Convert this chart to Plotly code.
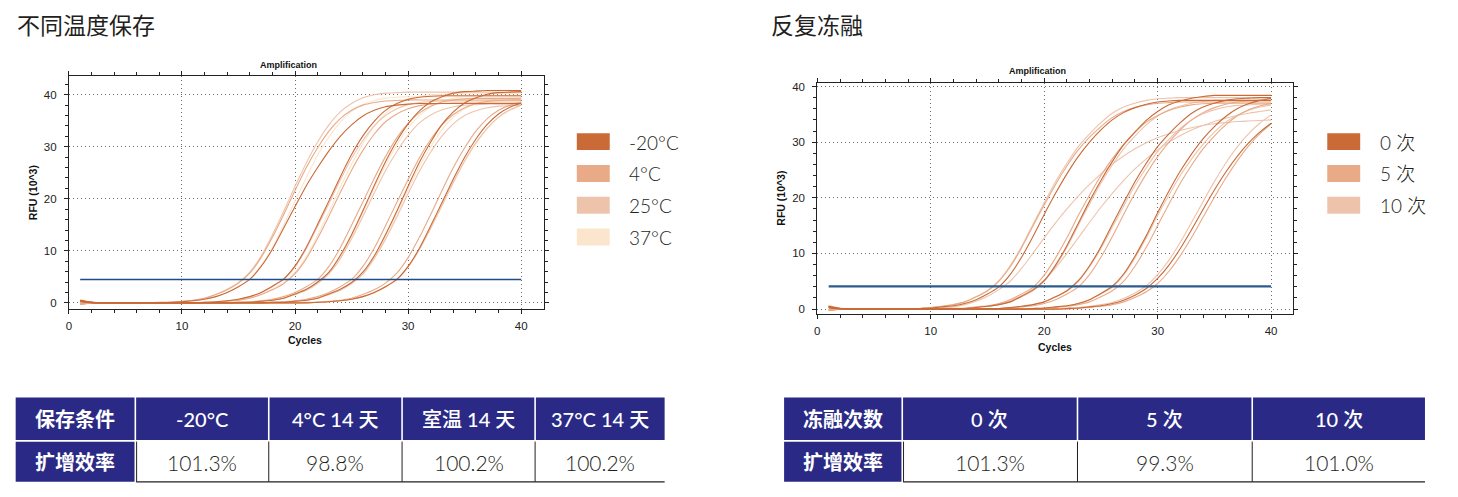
import plotly.graph_objects as go

W, H = 1458, 497

# ---------------- data ----------------
CYCLES = list(range(1, 41))

PLOT_TITLE = "Amplification"
X_LABEL = "Cycles"
Y_LABEL = "RFU (10^3)"

# Left panel: storage at different temperatures
L_TITLE = "不同温度保存"
L_LABELS = ["-20°C", "4°C", "25°C", "37°C"]
L_COLORS = ["#C96A37", "#E8AA87", "#EEC3AC", "#FBE6CD"]
L_THRESHOLD = 4.5

L_M20 = [
    [0.5, 0.1, 0.0, 0.0, 0.0, 0.0, 0.0, 0.0, 0.1, 0.2,
     0.4, 0.7, 1.2, 2.0, 3.1, 4.5, 7.0, 10.3, 14.4, 18.5,
     22.5, 26.0, 29.2, 32.0, 34.2, 35.9, 37.0, 37.7, 38.0, 38.2,
     38.3, 38.3, 38.3, 38.3, 38.3, 38.3, 38.3, 38.3, 38.3, 38.3],
    [0.4, 0.1, 0.0, 0.0, 0.0, 0.0, 0.0, 0.0, 0.0, 0.0,
     0.0, 0.1, 0.2, 0.4, 0.7, 1.2, 2.0, 3.2, 4.6, 7.1,
     10.7, 15.1, 19.6, 24.2, 28.5, 32.1, 34.9, 37.0, 38.3, 39.1,
     39.5, 39.7, 39.8, 39.8, 39.8, 39.8, 39.8, 39.8, 39.8, 39.8],
    [0.3, 0.1, 0.0, 0.0, 0.0, 0.0, 0.0, 0.0, 0.0, 0.0,
     0.0, 0.0, 0.0, 0.0, 0.1, 0.1, 0.3, 0.5, 0.9, 1.7,
     2.6, 4.0, 5.9, 9.1, 13.1, 17.7, 22.5, 27.1, 31.1, 34.4,
     36.9, 38.6, 39.6, 40.3, 40.6, 40.7, 40.8, 40.8, 40.8, 40.8],
    [0.4, 0.1, 0.0, 0.0, 0.0, 0.0, 0.0, 0.0, 0.0, 0.0,
     0.0, 0.0, 0.0, 0.0, 0.0, 0.0, 0.0, 0.1, 0.1, 0.3,
     0.5, 0.9, 1.7, 2.6, 3.9, 5.9, 9.0, 13.1, 17.6, 22.4,
     27.0, 30.9, 34.3, 36.7, 38.4, 39.4, 40.1, 40.4, 40.5, 40.6],
    [0.2, 0.0, 0.0, 0.0, 0.0, 0.0, 0.0, 0.0, 0.0, 0.0,
     0.0, 0.0, 0.0, 0.0, 0.0, 0.0, 0.0, 0.0, 0.0, 0.0,
     0.0, 0.1, 0.2, 0.4, 0.7, 1.2, 2.0, 3.1, 4.5, 7.0,
     10.5, 14.8, 19.3, 23.8, 28.0, 31.5, 34.3, 36.3, 37.6, 38.4],
]
L_P4 = [
    [-0.2, 0.0, 0.0, 0.0, 0.0, 0.0, 0.0, 0.1, 0.1, 0.3,
     0.5, 0.9, 1.6, 2.5, 3.8, 5.7, 8.7, 12.6, 17.0, 21.6,
     26.0, 29.8, 33.0, 35.4, 37.0, 38.0, 38.5, 38.8, 38.9, 39.0,
     39.0, 39.0, 39.0, 39.0, 39.0, 39.0, 39.0, 39.0, 39.0, 39.0],
    [-0.3, 0.0, 0.0, 0.0, 0.0, 0.0, 0.0, 0.0, 0.0, 0.0,
     0.0, 0.1, 0.1, 0.3, 0.5, 0.9, 1.6, 2.5, 3.7, 5.6,
     8.5, 12.4, 16.7, 21.2, 25.5, 29.3, 32.4, 34.8, 36.3, 37.3,
     37.9, 38.2, 38.3, 38.4, 38.4, 38.4, 38.4, 38.4, 38.4, 38.4],
    [-0.1, 0.0, 0.0, 0.0, 0.0, 0.0, 0.0, 0.0, 0.0, 0.0,
     0.0, 0.0, 0.0, 0.0, 0.1, 0.2, 0.4, 0.7, 1.2, 2.0,
     3.1, 4.5, 7.0, 10.6, 14.9, 19.4, 23.9, 28.1, 31.7, 34.5,
     36.5, 37.8, 38.6, 39.0, 39.2, 39.3, 39.3, 39.3, 39.3, 39.3],
    [-0.2, 0.0, 0.0, 0.0, 0.0, 0.0, 0.0, 0.0, 0.0, 0.0,
     0.0, 0.0, 0.0, 0.0, 0.0, 0.0, 0.0, 0.1, 0.2, 0.4,
     0.7, 1.2, 2.0, 3.1, 4.5, 7.0, 10.5, 14.8, 19.3, 23.7,
     27.9, 31.4, 34.2, 36.2, 37.5, 38.3, 38.7, 38.9, 39.0, 39.0],
    [-0.3, 0.0, 0.0, 0.0, 0.0, 0.0, 0.0, 0.0, 0.0, 0.0,
     0.0, 0.0, 0.0, 0.0, 0.0, 0.0, 0.0, 0.0, 0.0, 0.0,
     0.1, 0.1, 0.3, 0.5, 0.9, 1.6, 2.5, 3.8, 5.7, 8.7,
     12.6, 17.0, 21.6, 26.0, 29.8, 33.0, 35.4, 37.0, 38.0, 38.6],
]
L_P25 = [
    [0.3, 0.1, 0.0, 0.0, 0.0, 0.0, 0.0, 0.1, 0.1, 0.3,
     0.5, 0.9, 1.6, 2.6, 3.9, 5.9, 9.0, 13.1, 17.6, 22.4,
     26.9, 30.9, 34.2, 36.7, 38.3, 39.4, 40.0, 40.3, 40.4, 40.5,
     40.5, 40.5, 40.5, 40.5, 40.5, 40.5, 40.5, 40.5, 40.5, 40.5],
    [0.2, 0.1, 0.0, 0.0, 0.0, 0.0, 0.0, 0.0, 0.0, 0.0,
     0.0, 0.1, 0.2, 0.4, 0.7, 1.2, 2.0, 3.1, 4.5, 6.9,
     10.4, 14.7, 19.1, 23.6, 27.8, 31.2, 34.0, 36.0, 37.3, 38.1,
     38.5, 38.7, 38.8, 38.8, 38.8, 38.8, 38.8, 38.8, 38.8, 38.8],
    [0.5, 0.1, 0.0, 0.0, 0.0, 0.0, 0.0, 0.0, 0.0, 0.0,
     0.0, 0.0, 0.0, 0.0, 0.1, 0.1, 0.3, 0.5, 0.9, 1.6,
     2.4, 3.7, 5.6, 8.5, 12.3, 16.6, 21.1, 25.4, 29.1, 32.2,
     34.6, 36.1, 37.1, 37.7, 38.0, 38.1, 38.2, 38.2, 38.2, 38.2],
    [0.1, 0.0, 0.0, 0.0, 0.0, 0.0, 0.0, 0.0, 0.0, 0.0,
     0.0, 0.0, 0.0, 0.0, 0.0, 0.0, 0.0, 0.1, 0.1, 0.3,
     0.5, 0.9, 1.6, 2.4, 3.7, 5.5, 8.5, 12.2, 16.5, 21.0,
     25.3, 29.0, 32.1, 34.4, 36.0, 36.9, 37.5, 37.8, 37.9, 38.0],
    [0.4, 0.1, 0.0, 0.0, 0.0, 0.0, 0.0, 0.0, 0.0, 0.0,
     0.0, 0.0, 0.0, 0.0, 0.0, 0.0, 0.0, 0.0, 0.0, 0.0,
     0.0, 0.1, 0.2, 0.4, 0.7, 1.2, 2.0, 3.1, 4.5, 6.9,
     10.3, 14.4, 18.8, 23.2, 27.3, 30.8, 33.6, 35.7, 37.1, 38.0],
]
L_P37 = [
    [0.7, 0.2, 0.0, 0.0, 0.0, 0.0, 0.0, 0.0, 0.1, 0.2,
     0.4, 0.7, 1.2, 2.0, 3.1, 4.6, 7.1, 10.6, 15.0, 19.6,
     24.1, 28.4, 31.9, 34.7, 36.8, 38.1, 38.9, 39.3, 39.5, 39.6,
     39.6, 39.6, 39.6, 39.6, 39.6, 39.6, 39.6, 39.6, 39.6, 39.6],
    [0.6, 0.1, 0.0, 0.0, 0.0, 0.0, 0.0, 0.0, 0.0, 0.0,
     0.0, 0.1, 0.1, 0.3, 0.5, 0.9, 1.6, 2.6, 3.9, 5.9,
     8.9, 13.0, 17.5, 22.2, 26.7, 30.6, 33.9, 36.4, 38.0, 39.1,
     39.7, 40.0, 40.1, 40.2, 40.2, 40.2, 40.2, 40.2, 40.2, 40.2],
    [0.6, 0.1, 0.0, 0.0, 0.0, 0.0, 0.0, 0.0, 0.0, 0.0,
     0.0, 0.0, 0.0, 0.0, 0.1, 0.1, 0.3, 0.5, 0.9, 1.6,
     2.5, 3.9, 5.8, 8.9, 12.8, 17.3, 22.0, 26.5, 30.3, 33.6,
     36.0, 37.7, 38.7, 39.3, 39.6, 39.7, 39.8, 39.8, 39.8, 39.8],
    [0.5, 0.1, 0.0, 0.0, 0.0, 0.0, 0.0, 0.0, 0.0, 0.0,
     0.0, 0.0, 0.0, 0.0, 0.0, 0.0, 0.0, 0.1, 0.1, 0.3,
     0.5, 0.9, 1.6, 2.5, 3.8, 5.7, 8.8, 12.7, 17.1, 21.8,
     26.2, 30.0, 33.3, 35.7, 37.3, 38.3, 38.9, 39.2, 39.3, 39.4],
    [0.6, 0.1, 0.0, 0.0, 0.0, 0.0, 0.0, 0.0, 0.0, 0.0,
     0.0, 0.0, 0.0, 0.0, 0.0, 0.0, 0.0, 0.0, 0.0, 0.0,
     0.0, 0.1, 0.2, 0.4, 0.7, 1.2, 1.9, 3.0, 4.4, 6.8,
     10.2, 14.3, 18.6, 23.0, 27.1, 30.6, 33.5, 35.6, 37.0, 38.0],
]
L_SERIES = [L_M20, L_P4, L_P25, L_P37]

# Right panel: repeated freeze-thaw
R_TITLE = "反复冻融"
R_LABELS = ["0 次", "5 次", "10 次"]
R_COLORS = ["#C96A37", "#E8AA87", "#EEC3AC"]
R_THRESHOLD = 4.1

R_0 = [
    [0.4, 0.1, 0.0, 0.0, 0.0, 0.0, 0.0, 0.0, 0.1, 0.2,
     0.4, 0.6, 1.0, 1.7, 2.7, 4.0, 6.2, 9.3, 13.0, 17.0,
     20.8, 24.3, 27.4, 30.0, 32.2, 34.0, 35.3, 36.2, 36.8, 37.2,
     37.4, 37.5, 37.5, 37.5, 37.5, 37.5, 37.5, 37.5, 37.5, 37.5],
    [0.3, 0.1, 0.0, 0.0, 0.0, 0.0, 0.0, 0.0, 0.0, 0.0,
     0.0, 0.1, 0.1, 0.3, 0.5, 0.8, 1.3, 2.3, 3.4, 5.1,
     7.9, 11.4, 15.4, 19.4, 23.1, 26.5, 29.5, 31.8, 33.9, 35.5,
     36.7, 37.4, 37.9, 38.2, 38.4, 38.4, 38.4, 38.4, 38.4, 38.4],
    [0.5, 0.1, 0.0, 0.0, 0.0, 0.0, 0.0, 0.0, 0.0, 0.0,
     0.0, 0.0, 0.0, 0.0, 0.1, 0.1, 0.3, 0.5, 0.8, 1.3,
     2.2, 3.3, 5.1, 7.8, 11.2, 15.2, 19.1, 22.9, 26.2, 29.2,
     31.5, 33.5, 35.2, 36.3, 37.0, 37.5, 37.8, 37.9, 38.0, 38.0],
    [0.2, 0.0, 0.0, 0.0, 0.0, 0.0, 0.0, 0.0, 0.0, 0.0,
     0.0, 0.0, 0.0, 0.0, 0.0, 0.0, 0.0, 0.0, 0.1, 0.2,
     0.4, 0.6, 1.0, 1.7, 2.8, 4.1, 6.3, 9.5, 13.2, 17.3,
     21.2, 24.8, 27.9, 30.6, 32.8, 34.6, 36.0, 36.9, 37.5, 37.9],
    [0.4, 0.1, 0.0, 0.0, 0.0, 0.0, 0.0, 0.0, 0.0, 0.0,
     0.0, 0.0, 0.0, 0.0, 0.0, 0.0, 0.0, 0.0, 0.0, 0.0,
     0.0, 0.1, 0.2, 0.4, 0.6, 1.0, 1.6, 2.5, 3.7, 5.5,
     7.9, 10.9, 14.3, 17.9, 21.4, 24.6, 27.4, 29.8, 31.8, 33.4],
]
R_5 = [
    [-0.2, 0.0, 0.0, 0.0, 0.0, 0.0, 0.0, 0.1, 0.1, 0.3,
     0.5, 0.8, 1.3, 2.2, 3.3, 5.0, 7.6, 11.0, 14.9, 18.7,
     22.4, 25.7, 28.6, 30.9, 32.8, 34.4, 35.5, 36.2, 36.7, 37.0,
     37.1, 37.2, 37.2, 37.2, 37.2, 37.2, 37.2, 37.2, 37.2, 37.2],
    [-0.1, 0.0, 0.0, 0.0, 0.0, 0.0, 0.0, 0.0, 0.0, 0.0,
     0.0, 0.1, 0.2, 0.4, 0.6, 1.0, 1.7, 2.7, 3.9, 6.1,
     9.2, 12.8, 16.8, 20.5, 24.0, 27.0, 29.6, 31.8, 33.6, 34.8,
     35.7, 36.3, 36.7, 36.9, 37.0, 37.0, 37.0, 37.0, 37.0, 37.0],
    [-0.3, 0.0, 0.0, 0.0, 0.0, 0.0, 0.0, 0.0, 0.0, 0.0,
     0.0, 0.0, 0.0, 0.0, 0.0, 0.1, 0.2, 0.4, 0.6, 1.0,
     1.7, 2.7, 4.0, 6.2, 9.3, 13.0, 17.0, 20.8, 24.3, 27.4,
     30.0, 32.2, 34.0, 35.3, 36.2, 36.8, 37.2, 37.4, 37.5, 37.5],
    [-0.2, 0.0, 0.0, 0.0, 0.0, 0.0, 0.0, 0.0, 0.0, 0.0,
     0.0, 0.0, 0.0, 0.0, 0.0, 0.0, 0.0, 0.0, 0.1, 0.1,
     0.3, 0.5, 0.8, 1.3, 2.2, 3.3, 5.0, 7.7, 11.1, 15.0,
     18.9, 22.6, 25.9, 28.8, 31.1, 33.1, 34.7, 35.8, 36.5, 37.0],
    [-0.1, 0.0, 0.0, 0.0, 0.0, 0.0, 0.0, 0.0, 0.0, 0.0,
     0.0, 0.0, 0.0, 0.0, 0.0, 0.0, 0.0, 0.0, 0.0, 0.0,
     0.0, 0.0, 0.1, 0.3, 0.5, 0.8, 1.3, 2.1, 3.1, 4.6,
     6.8, 9.6, 12.9, 16.5, 20.1, 23.5, 26.6, 29.3, 31.5, 33.3],
]
R_10 = [
    [0.6, 0.2, 0.0, 0.0, 0.0, 0.0, 0.0, 0.1, 0.1, 0.3,
     0.5, 0.8, 1.3, 2.2, 3.3, 5.1, 7.8, 11.2, 15.2, 19.1,
     22.9, 26.2, 29.2, 31.5, 33.5, 35.2, 36.3, 37.0, 37.5, 37.8,
     37.9, 38.0, 38.0, 38.0, 38.0, 38.0, 38.0, 38.0, 38.0, 38.0],
    [0.5, 0.1, 0.0, 0.0, 0.0, 0.0, 0.0, 0.0, 0.0, 0.0,
     0.0, 0.1, 0.1, 0.3, 0.5, 0.8, 1.3, 2.2, 3.3, 5.0,
     7.7, 11.1, 15.0, 18.9, 22.6, 25.9, 28.8, 31.1, 33.1, 34.7,
     35.8, 36.5, 37.0, 37.3, 37.5, 37.5, 37.5, 37.5, 37.5, 37.5],
    [0.3, 0.1, 0.0, 0.0, 0.0, 0.0, 0.0, 0.0, 0.0, 0.0,
     0.0, 0.0, 0.0, 0.0, 0.1, 0.1, 0.3, 0.5, 0.8, 1.3,
     2.2, 3.2, 4.9, 7.6, 10.9, 14.7, 18.5, 22.2, 25.4, 28.3,
     30.5, 32.5, 34.0, 35.1, 35.8, 36.3, 36.6, 36.7, 36.8, 36.8],
    [0.6, 0.1, 0.0, 0.0, 0.0, 0.0, 0.0, 0.0, 0.0, 0.0,
     0.0, 0.0, 0.0, 0.0, 0.0, 0.0, 0.0, 0.0, 0.1, 0.2,
     0.4, 0.6, 1.0, 1.7, 2.7, 3.9, 6.1, 9.2, 12.8, 16.8,
     20.5, 24.0, 27.0, 29.6, 31.8, 33.6, 34.8, 35.7, 36.3, 36.7],
    [0.5, 0.1, 0.0, 0.0, 0.0, 0.0, 0.0, 0.0, 0.0, 0.0,
     0.0, 0.0, 0.0, 0.0, 0.0, 0.0, 0.0, 0.0, 0.0, 0.0,
     0.1, 0.2, 0.3, 0.5, 0.8, 1.2, 1.9, 2.9, 4.2, 6.2,
     8.8, 12.0, 15.6, 19.3, 22.9, 26.2, 29.1, 31.5, 33.4, 34.9],
    [0.3, 0.1, 0.0, 0.0, 0.0, 0.0, 0.0, 0.0, 0.1, 0.1,
     0.2, 0.4, 0.8, 1.4, 2.3, 3.5, 5.0, 7.3, 10.0, 12.8,
     15.5, 18.0, 20.3, 22.4, 24.3, 26.0, 27.5, 28.8, 29.9, 30.8,
     31.5, 32.1, 32.6, 33.0, 33.3, 33.5, 33.7, 33.8, 33.9, 34.0],
    [0.4, 0.1, 0.0, 0.0, 0.0, 0.0, 0.0, 0.0, 0.0, 0.0,
     0.0, 0.0, 0.1, 0.3, 0.5, 0.9, 1.5, 2.4, 3.6, 5.2,
     7.4, 10.0, 12.8, 15.6, 18.3, 20.8, 23.1, 25.2, 27.0, 28.6,
     30.0, 31.2, 32.2, 33.0, 33.7, 34.3, 34.8, 35.2, 35.5, 35.8],
]
R_SERIES = [R_0, R_5, R_10]

L_TABLE_HEAD = ["保存条件", "-20°C", "4°C 14 天", "室温 14 天", "37°C 14 天"]
L_TABLE_ROW = ["扩增效率", "101.3%", "98.8%", "100.2%", "100.2%"]
R_TABLE_HEAD = ["冻融次数", "0 次", "5 次", "10 次"]
R_TABLE_ROW = ["扩增效率", "101.3%", "99.3%", "101.0%"]

# ---------------- layout constants (pixels) ----------------
NAVY = "#2A2A86"
INK = "#231F20"
AX = "#222222"
CJK = "Noto Sans CJK SC"
LAT = "Lato, Noto Sans CJK SC"
ARIAL = "Liberation Sans, Arial, sans-serif"


def PX(x):
    return x / W


def PY(y):
    return 1 - y / H


fig = go.Figure()

# curves (lightest drawn first)
for ci in reversed(range(len(L_SERIES))):
    for curve in L_SERIES[ci]:
        fig.add_trace(go.Scatter(x=CYCLES, y=curve, mode="lines", xaxis="x", yaxis="y",
                                 line=dict(color=L_COLORS[ci], width=1.1, shape="spline", smoothing=0.6),
                                 hoverinfo="skip", showlegend=False))
fig.add_trace(go.Scatter(x=[CYCLES[0], CYCLES[-1]], y=[L_THRESHOLD, L_THRESHOLD], mode="lines",
                         xaxis="x", yaxis="y", line=dict(color="#1E4B8A", width=1.5),
                         hoverinfo="skip", showlegend=False))

for ci in reversed(range(len(R_SERIES))):
    for curve in R_SERIES[ci]:
        fig.add_trace(go.Scatter(x=CYCLES, y=curve, mode="lines", xaxis="x2", yaxis="y2",
                                 line=dict(color=R_COLORS[ci], width=1.1, shape="spline", smoothing=0.6),
                                 hoverinfo="skip", showlegend=False))
fig.add_trace(go.Scatter(x=[CYCLES[0], CYCLES[-1]], y=[R_THRESHOLD, R_THRESHOLD], mode="lines",
                         xaxis="x2", yaxis="y2", line=dict(color="#2C5C8E", width=2.2),
                         hoverinfo="skip", showlegend=False))


def axis(domain, rng, anchor, standoff):
    return dict(
        domain=domain, range=rng, anchor=anchor,
        showline=True, linecolor=AX, linewidth=1, mirror="ticks",
        ticks="outside", ticklen=4, tickwidth=1, tickcolor=AX,
        tick0=0, dtick=10, ticklabelstandoff=standoff,
        showgrid=True, gridcolor="#6A6A6A", gridwidth=1, griddash="1px,3px",
        zeroline=False,
        tickfont=dict(family=ARIAL, size=11.5, color=AX),
        minor=dict(tick0=0, dtick=2, ticks="outside", ticklen=3, tickcolor=AX, showgrid=False),
        fixedrange=True,
    )


# left plot frame: x 66..541.7, y 74.7..308.7 px ; right: x 816..1292.3, y 81.3..314 px
fig.update_layout(
    xaxis=axis([PX(66), PX(541.7)], [0, 41.98], "y", 2),
    yaxis=axis([PY(308.7), PY(74.7)], [-1.15, 43.55], "x", 5),
    xaxis2=axis([PX(816), PX(1292.3)], [0, 41.9], "y2", 2),
    yaxis2=axis([PY(314), PY(81.3)], [-0.9, 40.66], "x2", 5),
)

ann = []
shapes = []


def text(x, y, s, size, color=INK, family=CJK, weight=400, xanchor="center", angle=0):
    ann.append(dict(x=PX(x), y=PY(y), xref="paper", yref="paper", text=s, showarrow=False,
                    xanchor=xanchor, yanchor="middle", textangle=angle,
                    font=dict(family=family, size=size, color=color, weight=weight)))


def rect(x0, y0, x1, y1, fill):
    shapes.append(dict(type="rect", xref="paper", yref="paper", x0=PX(x0), x1=PX(x1),
                       y0=PY(y1), y1=PY(y0), fillcolor=fill, line=dict(width=0), layer="above"))


def hline(x0, x1, y, color, width):
    shapes.append(dict(type="line", xref="paper", yref="paper", x0=PX(x0), x1=PX(x1),
                       y0=PY(y), y1=PY(y), line=dict(color=color, width=width), layer="above"))


def vline(x, y0, y1, color, width):
    shapes.append(dict(type="line", xref="paper", yref="paper", x0=PX(x), x1=PX(x),
                       y0=PY(y0), y1=PY(y1), line=dict(color=color, width=width), layer="above"))


# panel titles
text(12, 22, L_TITLE, 23, xanchor="left")
text(768, 22, R_TITLE, 23, xanchor="left")

# chart texts
for (tx, ty, cx, cy, rx, ry) in [(286.5, 63.7, 303, 340, 29.7, 191.7),
                                  (1037, 69.7, 1054, 347, 779.5, 197)]:
    text(tx, ty, PLOT_TITLE, 9, color="#111", family=ARIAL, weight=700)
    text(cx, cy, X_LABEL, 10.5, color="#111", family=ARIAL, weight=700)
    text(rx, ry, Y_LABEL, 10.5, color="#111", family=ARIAL, weight=700, angle=-90)

# legends
for labels, colors, sx, lx in [(L_LABELS, L_COLORS, 575, 625), (R_LABELS, R_COLORS, 1327, 1378)]:
    for i, (lab, col) in enumerate(zip(labels, colors)):
        top = 132 + 32 * i
        rect(sx, top, sx + 33, top + 17, col)
        text(lx, top + 9, lab, 19, family=LAT, weight=300, xanchor="left")


# tables
def table(edges, head, row):
    y_top, y_mid_a, y_mid_b, y_bot = 398, 440.7, 442.3, 482.7
    gap = 1.6
    n = len(head)
    for i in range(n):
        x0 = edges[i] + (gap if i > 0 else 0)
        x1 = edges[i + 1]
        rect(x0, y_top, x1, y_mid_a, NAVY)
        cx = (x0 + x1) / 2
        if i == 0:
            text(cx, (y_top + y_mid_a) / 2, head[i], 20, color="white", family=CJK, weight=700)
        else:
            text(cx, (y_top + y_mid_a) / 2, head[i], 20, color="white", family=LAT, weight=500)
    rect(edges[0], y_mid_b, edges[1], y_bot, NAVY)
    text((edges[0] + edges[1]) / 2, (y_mid_b + y_bot) / 2, row[0], 20, color="white", family=CJK, weight=700)
    for i in range(1, n):
        x0 = edges[i] + gap
        x1 = edges[i + 1]
        text((x0 + x1) / 2, (y_mid_b + y_bot) / 2 + 1, row[i], 21, color=INK, family=LAT, weight=300)
        if i > 1:
            vline(edges[i] + 0.8, y_mid_b, y_bot, INK, 1)
    vline(edges[1] + gap + 0.5, y_mid_b, y_bot, INK, 1)
    hline(edges[1] + gap, edges[-1], y_bot, INK, 1.3)


table([12.7, 131.8, 265.5, 399.1, 532.4, 663.0], L_TABLE_HEAD, L_TABLE_ROW)
table([782.7, 900.3, 1075.9, 1251.0, 1424.9], R_TABLE_HEAD, R_TABLE_ROW)

fig.update_layout(
    width=W, height=H, margin=dict(l=0, r=0, t=0, b=0),
    paper_bgcolor="white", plot_bgcolor="white",
    showlegend=False, annotations=ann, shapes=shapes,
)

fig.write_html("out.html")
